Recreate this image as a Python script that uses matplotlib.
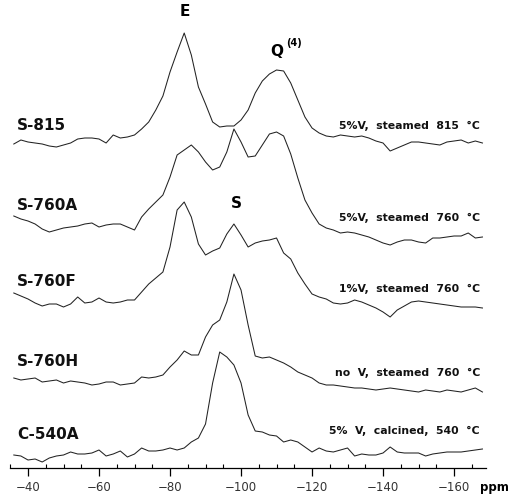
import numpy as np
import matplotlib
matplotlib.use("Agg")
import matplotlib.pyplot as plt
from matplotlib.ticker import MultipleLocator

# chemical shift grid (ppm), every 2 ppm from -36 to -168
ppm = np.arange(-36, -169, -2)

# intensities (arbitrary units, above each trace's baseline)
s815 = [2, 6, 4, 3, 2, 0, -1, 1, 3, 7, 8, 8, 7, 3, 11, 8, 9, 11, 17, 24,
        36, 50, 74, 94, 113, 91, 59, 42, 24, 19, 20, 20, 26, 36, 53, 65, 72, 76, 75, 63,
        46, 29, 18, 13, 10, 9, 11, 10, 9, 10, 8, 5, 3, -5, -2, 1, 4, 4, 3, 2,
        1, 4, 5, 6, 3, 5, 3]
s760a = [11, 8, 6, 3, -2, -5, -3, -1, 0, 1, 3, 4, 0, 2, 3, 3, 0, -3, 10, 18,
         25, 32, 50, 72, 77, 82, 75, 65, 57, 60, 75, 98, 85, 70, 71, 82, 93, 95, 91, 73,
         49, 27, 14, 3, -1, -3, -6, -5, -6, -8, -10, -13, -16, -18, -15, -13, -13, -15, -16, -11,
         -11, -10, -9, -9, -6, -11, -10]
s760f = [9, 6, 3, -1, -4, -2, -2, -5, -2, 5, -1, 0, 4, 0, -1, 0, 2, 2, 10, 18,
         24, 30, 55, 92, 100, 85, 58, 47, 51, 54, 68, 78, 67, 55, 59, 61, 62, 64, 49, 43,
         29, 18, 8, 5, 3, -1, -2, -1, 2, 0, -3, -6, -10, -15, -8, -4, 0, 1, 0, -1,
         -2, -3, -4, -5, -5, -5, -6]
s760h = [4, 2, 3, 4, 0, 1, 2, -1, 1, 0, -1, -3, -2, 0, 0, -3, -2, -1, 5, 4,
         5, 7, 15, 22, 31, 27, 27, 45, 57, 62, 80, 108, 92, 57, 26, 24, 25, 22, 19, 15,
         10, 7, 4, -1, -3, -3, -4, -5, -6, -6, -7, -8, -7, -6, -7, -8, -9, -10, -8, -9,
         -10, -8, -9, -10, -8, -6, -10]
c540a = [0, -1, -5, -4, -7, -3, -1, 0, 3, 1, 1, 2, 5, -1, 1, 4, -2, 1, 7, 4,
         4, 5, 7, 5, 7, 13, 17, 31, 72, 103, 98, 90, 72, 40, 24, 23, 20, 19, 13, 15,
         13, 8, 3, 7, 4, 3, 5, 7, -1, 1, 0, 0, 2, 8, 3, 2, 2, 2, -1, 1,
         2, 3, 3, 3, 4, 5, 6]

spectra = [s815, s760a, s760f, s760h, c540a]
offsets = [322, 241, 166, 86, 13]
samples = ["S-815", "S-760A", "S-760F", "S-760H", "C-540A"]
treatments = ["5%V,  steamed  815  \u00b0C", "5%V,  steamed  760  \u00b0C",
              "1%V,  steamed  760  \u00b0C", "no  V,  steamed  760  \u00b0C",
              "5%  V,  calcined,  540  \u00b0C"]
treat_y = [342, 250, 179, 95, 37]
tick_vals = [-40, -60, -80, -100, -120, -140, -160]

fig = plt.figure(figsize=(5.14, 4.94), dpi=100)
ax = fig.add_axes([10 / 514, 26 / 494, 476 / 514, 468 / 494])
ax.set_xlim(-34.93, -169.0)
ax.set_ylim(0, 468)

for y, off in zip(spectra, offsets):
    ax.plot(ppm, np.array(y) + off, color="#222222", lw=0.75, clip_on=False)

for name, off in zip(samples, offsets):
    ax.text(-36.9, off + 21, name, fontsize=11, fontweight="bold",
            ha="left", va="center", color="#111")

for t, ty in zip(treatments, treat_y):
    ax.text(-167.3, ty, t, fontsize=7.8, fontweight="bold",
            ha="right", va="center", color="#111")

# peak assignments
ax.text(-84.2, 456, "E", fontsize=11, fontweight="bold", ha="center", va="center")
ax.text(-98.6, 264, "S", fontsize=11, fontweight="bold", ha="center", va="center")
ax.text(-110.1, 416, "Q", fontsize=11, fontweight="bold", ha="center", va="center")
ax.text(-112.6, 425, "(4)", fontsize=7, fontweight="bold", ha="left", va="center")

for s in ["top", "right", "left"]:
    ax.spines[s].set_visible(False)
ax.spines["bottom"].set_linewidth(0.9)
ax.set_yticks([])
ax.set_xticks(tick_vals)
ax.set_xticklabels([str(v).replace("-", "\u2212") for v in tick_vals])
ax.xaxis.set_minor_locator(MultipleLocator(5))
ax.tick_params(axis="x", which="major", direction="out", length=6, width=0.9,
               labelsize=8.5, labelcolor="#333", pad=3)
ax.tick_params(axis="x", which="minor", direction="in", length=3, width=0.8)
ax.text(-171.5, -19, "ppm", fontsize=8.5, fontweight="bold", ha="center",
        va="center", clip_on=False)

fig.savefig("out.png", dpi=100)
